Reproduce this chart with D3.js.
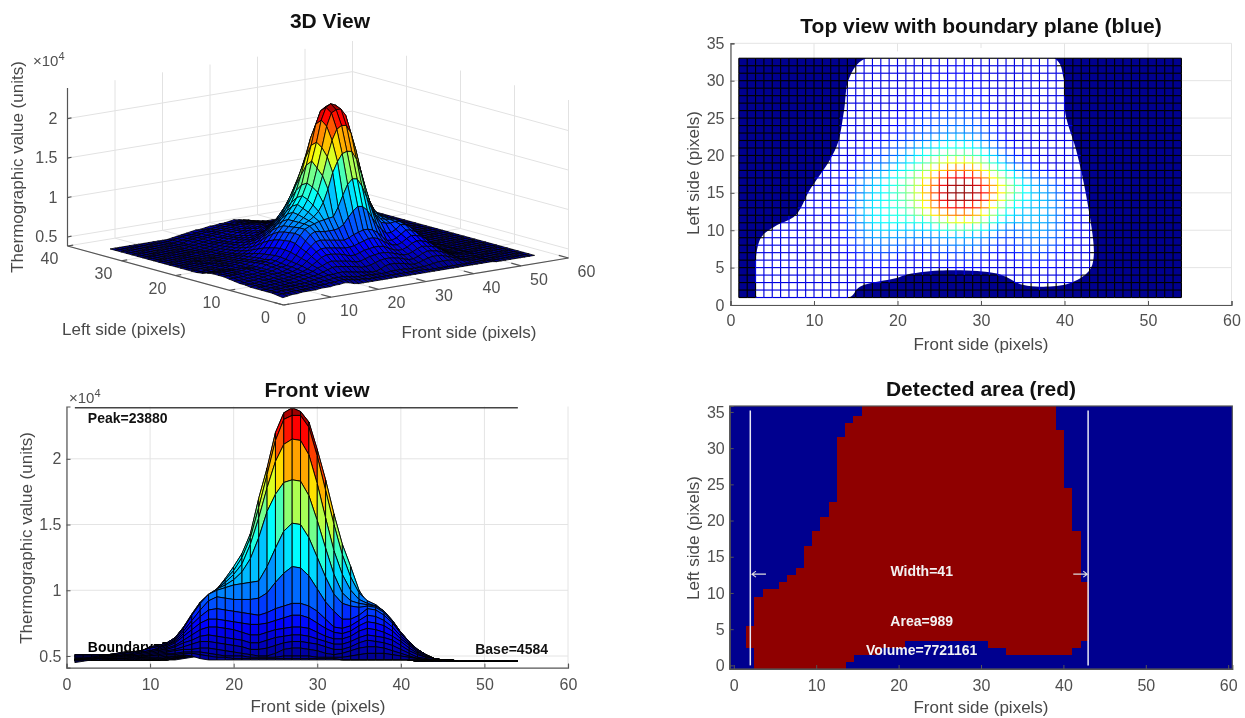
<!DOCTYPE html>
<html>
<head>
<meta charset="utf-8">
<script src="https://cdn.jsdelivr.net/npm/d3@7"></script>
<style>
  body { margin: 0; background: #fff; }
  svg { filter: blur(0.45px); }
  text { font-family: "Liberation Sans", Arial, sans-serif; }
  .tick text, .tick3d { font-size: 16px; fill: #505050; }
  .axis-label { font-size: 17px; fill: #484848; text-anchor: middle; }
  .chart-title { font-size: 21px; font-weight: bold; fill: #111; text-anchor: middle; }
  .note { font-size: 14px; font-weight: bold; }
</style>
</head>
<body>
<script>
// surface, in hundreds of units, rows are y = 1..33, columns x = 1..54
const surfaceHundreds = [
  [45,46,47,47,48,48,48,48,49,49, 49,50,50,51,50,48,47,47,47,47, 47,47,47,47,47,47,47,47,47,47, 47,47,47,47,47,47,47,47,47,47, 47,47,47,47,47,46,46,46,46,46, 46,46,46,46],
  [46,47,47,48,48,48,48,49,49,50, 50,51,51,52,52,51,50,49,49,48, 48,48,48,48,48,48,48,48,48,48, 48,48,47,47,47,47,47,47,47,47, 47,47,47,47,47,46,46,46,46,46, 46,46,46,46],
  [47,47,48,48,48,49,49,49,50,50, 51,52,52,53,53,53,52,51,50,50, 50,49,49,49,49,50,50,50,50,49, 49,49,49,50,51,52,52,52,51,50, 49,48,47,47,47,46,46,46,46,46, 46,46,46,46],
  [47,47,48,48,49,49,49,50,50,51, 52,53,54,55,55,56,56,55,54,53, 52,51,50,50,52,55,56,56,55,54, 52,51,52,54,56,57,57,56,54,52, 50,48,47,47,47,46,46,46,46,46, 46,46,46,46],
  [47,47,48,48,49,49,50,50,51,52, 53,54,55,57,59,61,61,60,59,58, 57,55,55,56,58,60,61,61,60,59, 57,55,55,57,60,62,61,60,58,55, 52,49,48,47,47,46,46,46,46,46, 46,46,46,46],
  [47,48,48,49,49,50,50,51,52,53, 54,55,57,60,62,65,66,65,64,63, 62,60,60,62,64,65,66,66,65,63, 61,59,59,61,64,66,65,64,62,58, 54,51,49,48,47,47,46,46,46,46, 46,46,46,46],
  [47,48,48,49,50,50,51,51,52,53, 54,56,58,62,66,70,72,72,71,70, 68,66,66,68,70,71,72,72,71,68, 65,63,63,65,69,71,70,68,65,61, 56,52,49,48,47,47,46,46,46,46, 46,46,46,46],
  [48,48,48,49,50,50,51,52,53,54, 55,57,60,65,70,75,78,78,77,76, 75,74,74,75,77,79,81,81,79,75, 71,68,67,69,73,76,75,73,69,63, 58,53,50,48,47,47,46,46,46,46, 46,46,46,46],
  [48,48,49,49,50,51,52,53,53,54, 56,58,61,67,74,80,85,86,85,84, 83,82,81,83,86,88,90,90,88,84, 78,72,71,73,77,81,80,77,72,65, 59,54,50,48,47,47,46,46,46,46, 46,46,46,46],
  [49,49,49,50,50,51,52,53,54,56, 57,58,62,69,77,85,92,95,94,93, 93,93,94,98,106,113,118,117,111,101, 91,84,78,78,81,86,85,81,75,67, 60,55,51,48,47,47,46,46,46,46, 46,46,46,46],
  [50,50,50,50,51,51,52,53,54,56, 57,59,63,71,81,90,97,100,102,104, 105,106,107,118,132,145,151,150,140,125, 110,97,90,88,87,88,87,83,76,68, 61,55,51,48,47,47,46,46,46,46, 46,46,46,46],
  [51,51,51,51,51,52,53,53,54,57, 58,60,64,72,82,91,97,101,104,108, 114,124,140,160,173,182,184,183,172,153, 132,112,98,92,90,89,88,84,77,68, 61,55,51,48,47,47,46,46,46,46, 46,46,46,46],
  [51,51,51,51,51,52,53,53,54,57, 58,60,64,72,81,90,96,101,106,112, 120,135,155,178,198,211,215,214,203,181, 155,130,112,100,93,90,88,84,77,68, 61,55,51,48,47,47,46,46,46,46, 46,46,46,46],
  [51,51,51,51,51,51,52,52,53,56, 57,58,63,71,80,89,95,101,108,115, 125,140,163,188,214,230,233,233,224,202, 176,150,127,110,98,92,89,84,76,67, 60,55,51,48,47,47,46,46,46,46, 46,46,46,46],
  [50,50,50,50,50,50,51,52,53,55, 56,58,62,69,78,87,94,101,109,118, 128,143,170,193,220,235,238.8,236,228,207, 184,158,135,118,100,90,86,81,74,65, 59,54,50,48,47,46,46,46,46,46, 46,46,46,46],
  [48,48,48,49,49,50,51,52,53,54, 55,57,61,67,75,83,90,97,105,114, 124,139,163,187,213,229,233,231,222,200, 176,151,128,110,95,86,80,75,69,62, 57,53,50,48,47,46,46,46,46,46, 46,46,46,46],
  [47,47,48,48,49,50,50,51,52,53, 54,56,59,64,71,78,85,91,98,106, 116,130,148,170,193,208,213,211,200,180, 156,132,112,96,84,76,71,67,62,57, 54,51,49,48,47,46,46,46,46,46, 46,46,46,46],
  [47,47,48,48,48,49,50,50,51,52, 53,55,57,61,66,72,78,84,90,97, 106,118,133,150,167,179,182,180,170,152, 132,112,95,82,73,67,63,60,57,54, 52,50,49,47,47,46,46,46,46,46, 46,46,46,46],
  [47,47,47,48,48,49,49,50,50,51, 52,53,55,58,62,67,72,77,83,89, 96,106,118,131,143,149,150,148,140,126, 110,94,81,72,65,61,58,56,54,52, 51,49,48,47,47,46,46,46,46,46, 46,46,46,46],
  [47,47,47,47,48,48,48,49,49,50, 51,52,53,56,59,63,67,71,76,81, 87,95,103,112,118,122,122,120,114,103, 92,80,71,64,60,57,55,54,52,51, 50,49,48,47,47,46,46,46,46,46, 46,46,46,46],
  [47,47,47,47,47,48,48,48,49,49, 50,51,52,54,57,60,63,66,70,74, 78,84,90,95,100,103,103,101,97,89, 80,71,64,59,56,54,53,52,51,50, 50,49,47,47,46,46,46,46,46,46, 46,46,46,46],
  [47,47,47,47,47,47,47,48,48,48, 49,50,51,53,55,57,60,62,65,68, 71,75,79,83,87,89,90,88,85,79, 72,65,60,56,54,53,52,51,50,50, 50,48,47,47,46,46,46,46,46,46, 46,46,46,46],
  [47,47,47,47,47,47,47,47,48,48, 48,49,50,52,54,56,58,60,62,64, 67,70,73,76,79,81,82,80,78,73, 68,62,57,54,53,52,51,51,50,50, 50,48,47,46,46,46,46,46,46,46, 46,46,46,46],
  [47,47,47,47,47,47,47,47,47,48, 48,49,50,51,53,55,56,58,60,62, 64,66,69,71,74,75,76,75,73,69, 64,59,55,53,52,51,51,50,50,50, 50,48,47,46,46,46,46,46,46,46, 46,46,46,46],
  [47,47,47,47,47,47,47,47,47,48, 48,48,49,51,52,54,55,57,58,60, 62,64,66,68,70,71,72,71,69,66, 62,57,54,52,51,51,50,50,50,50, 49,47,46,46,46,46,46,46,46,46, 46,46,46,46],
  [47,47,47,47,47,47,47,47,47,47, 48,48,49,50,52,53,54,56,57,58, 60,62,64,65,67,68,69,68,66,63, 60,56,53,52,51,50,50,50,50,50, 48,47,46,46,46,46,46,46,46,46, 46,46,46,46],
  [47,47,47,47,47,47,47,47,47,47, 47,48,49,50,51,52,53,55,56,57, 59,60,62,63,65,66,66,65,63,61, 58,55,53,51,51,50,50,50,50,49, 48,47,46,46,46,46,46,46,46,46, 46,46,46,46],
  [47,47,47,47,47,47,47,47,47,47, 47,48,49,50,51,52,53,54,55,56, 58,59,60,61,63,64,64,63,62,60, 57,54,52,51,50,50,50,50,50,49, 47,46,46,46,46,46,46,46,46,46, 46,46,46,46],
  [47,47,47,47,47,47,47,47,47,47, 47,48,48,50,51,52,53,54,55,56, 57,58,59,60,61,62,62,62,60,58, 56,54,52,51,50,50,50,50,49,48, 47,46,46,46,46,46,46,46,46,46, 46,46,46,46],
  [47,47,47,47,47,47,47,47,47,47, 47,47,48,50,51,52,52,53,54,55, 56,57,58,59,60,60,60,60,59,57, 55,53,52,51,50,50,50,50,49,48, 47,46,46,46,46,46,46,46,46,46, 46,46,46,46],
  [47,47,47,47,47,47,47,47,47,47, 47,47,48,49,50,51,52,53,54,54, 55,56,57,58,58,59,59,59,58,56, 54,53,52,51,50,50,50,50,49,48, 47,46,46,46,46,46,46,46,46,46, 46,46,46,46],
  [47,47,47,47,47,47,47,47,47,47, 47,47,48,49,50,51,51,52,53,54, 54,55,56,57,57,58,58,58,57,55, 54,52,51,50,50,50,50,50,49,48, 47,46,46,46,46,46,46,46,46,46, 46,46,46,46],
  [47,47,47,47,47,47,47,47,47,47, 47,47,47,48,49,50,51,52,53,53, 54,55,55,56,56,57,58,57,56,55, 53,52,51,50,50,50,50,49,49,48, 47,46,46,46,46,46,46,46,46,46, 46,46,46,46]
];
const surfaceMin = 4584;
const surfaceMax = 23880;

const frontTicks = [0, 10, 20, 30, 40, 50, 60];
const leftTicks3d = [0, 10, 20, 30, 40];
const leftTicks = [0, 5, 10, 15, 20, 25, 30, 35];
const valueTicks = [5000, 10000, 15000, 20000];
const valueTickLabels = ["0.5", "1", "1.5", "2"];

// outline of the part above the boundary plane (front side, left side)
const outlineFront = [3.2, 3, 3, 3.7, 5.3, 7.8, 9.5, 11.9, 12.9, 13.6, 14.2, 16.2, 38.8, 39.9, 40.1, 41.4, 42.7, 43.5, 42.9, 40.6, 37.5, 35, 31.9, 25, 20.9, 19.9, 15.5, 14.2];
const outlineLeft = [1, 3, 6, 9.1, 10.5, 12, 15.4, 19.4, 21.8, 26, 30.3, 33, 33, 30.3, 25.6, 20.7, 14, 6.5, 4.5, 2.9, 2.45, 2.7, 4.2, 4.6, 4, 3.6, 2.45, 1];

// detected mask, one run per row: row, first edge, last edge
const detectedRows = [0, 1, 2, 2, 3, 3, 4, 5, 6, 7, 8, 9, 10, 11, 12, 13, 14, 15, 16, 17, 18, 19, 20, 21, 22, 23, 24, 25, 26, 27, 28, 29, 30, 31, 32, 33, 34, 35, 36];
const detectedFrom = [2.5, 2.5, 2.5, 33, 1.5, 30.9, 1.5, 1.5, 2.5, 2.5, 2.5, 2.5, 3.5, 5.5, 6.5, 7.5, 8.5, 8.5, 8.5, 9.5, 9.5, 10.5, 10.5, 11.5, 11.5, 12.5, 12.5, 12.5, 12.5, 12.5, 12.5, 12.5, 12.5, 12.5, 13.5, 13.5, 14.5, 15.5, 15.5];
const detectedTo = [13.6, 14.6, 17.8, 41.1, 20.8, 42.1, 43.1, 43.1, 43.1, 43.1, 43.1, 43.1, 43.1, 43.1, 42.1, 42.1, 42.1, 42.1, 42.1, 42.1, 42.1, 41.1, 41.1, 41.1, 41.1, 41.1, 41.1, 40.1, 40.1, 40.1, 40.1, 40.1, 40.1, 40.1, 40.1, 39.1, 39.1, 39.1, 39.1];

const widthLines = [2, 43];
const peakValue = 23880;
const baseValue = 4584;

const svg = d3.select("body").append("svg").attr("width", 1245).attr("height", 718);

function value(x, y) { return surfaceHundreds[y - 1][x - 1] * 100; }

const jetColors = ["#00008f", "#0000ff", "#00ffff", "#ffff00", "#ff0000", "#800000"];
const jet = d3.scaleLinear()
  .domain([0, 0.125, 0.375, 0.625, 0.875, 1].map(function (t) { return surfaceMin + t * (surfaceMax - surfaceMin); }))
  .range(jetColors)
  .clamp(true);
// the top view mesh runs through the same colours a little sooner
const jetTop = d3.scaleLinear()
  .domain([4584, 6000, 10000, 15500, 21000, 24000])
  .range(jetColors)
  .clamp(true);

const xNodes = d3.range(1, 55);
const yNodes = d3.range(1, 34);

function title(text, x, y) {
  svg.append("text").attr("class", "chart-title").attr("x", x).attr("y", y).text(text);
}
function label(text, x, y, rotated) {
  const t = svg.append("text").attr("class", "axis-label").text(text);
  if (rotated) t.attr("transform", "translate(" + x + "," + y + ") rotate(-90)");
  else t.attr("x", x).attr("y", y);
}
function exponent(x, y) {
  const t = svg.append("text").attr("x", x).attr("y", y).style("font-size", "15px").style("fill", "#505050").text("\u00d710");
  t.append("tspan").attr("dy", -6).style("font-size", "11px").text("4");
}
function drawAxes(x, y, xt, yt, padX, padY, yFormat) {
  const xr = x.range(), yr = y.range();
  svg.append("g").attr("transform", "translate(0," + yr[0] + ")")
    .call(d3.axisBottom(x).tickValues(xt).tickSize(-4).tickPadding(padX))
    .call(axisStyle);
  const ax = d3.axisLeft(y).tickValues(yt).tickSize(-4).tickPadding(padY);
  if (yFormat) ax.tickFormat(yFormat);
  svg.append("g").attr("transform", "translate(" + xr[0] + ",0)").call(ax).call(axisStyle);
}
function axisStyle(g) {
  g.selectAll(".domain").attr("stroke", "#555").attr("stroke-width", 1.2);
  g.selectAll(".tick line").attr("stroke", "#555");
}
function drawGrid(x, y, xt, yt) {
  const xr = x.range(), yr = y.range();
  const g = svg.append("g").attr("stroke", "#e4e4e4").attr("stroke-width", 1);
  g.selectAll("line.v").data(xt).enter().append("line").attr("class", "v")
    .attr("x1", x).attr("x2", x).attr("y1", yr[0]).attr("y2", yr[1]);
  g.selectAll("line.h").data(yt).enter().append("line").attr("class", "h")
    .attr("x1", xr[0]).attr("x2", xr[1]).attr("y1", y).attr("y2", y);
}
function valueLabel(d) { return valueTickLabels[valueTicks.indexOf(d)]; }

// ---- 3D view
const origin3d = [283.5, 305];
const xAcross = d3.scaleLinear().domain([0, 60]).range([0, 285]);
const xUp = d3.scaleLinear().domain([0, 60]).range([0, -47]);
const yAcross = d3.scaleLinear().domain([0, 40]).range([0, -216]);
const yUp = d3.scaleLinear().domain([0, 40]).range([0, -59]);
const zUp = d3.scaleLinear().domain([3860, 23880]).range([0, -158]);

function project(x, y, z) {
  return [origin3d[0] + xAcross(x) + yAcross(y), origin3d[1] + xUp(x) + yUp(y) + zUp(z)];
}
const zLow = zUp.domain()[0], zTop = zUp.domain()[1];
const line3d = d3.line();
const gridLines3d = [];
frontTicks.forEach(function (x) {
  gridLines3d.push([[x, 0, zLow], [x, 40, zLow]]);
  gridLines3d.push([[x, 40, zLow], [x, 40, zTop]]);
});
leftTicks3d.forEach(function (y) {
  gridLines3d.push([[0, y, zLow], [60, y, zLow]]);
  gridLines3d.push([[60, y, zLow], [60, y, zTop]]);
});
valueTicks.forEach(function (z) {
  gridLines3d.push([[0, 40, z], [60, 40, z]]);
  gridLines3d.push([[60, 40, z], [60, 0, z]]);
});
svg.append("g").selectAll("path").data(gridLines3d).enter().append("path")
  .attr("d", function (d) { return line3d(d.map(function (p) { return project(p[0], p[1], p[2]); })); })
  .attr("fill", "none").attr("stroke", "#e2e2e2");

const cells3d = [];
yNodes.slice(0, -1).reverse().forEach(function (y) {
  xNodes.slice(0, -1).reverse().forEach(function (x) { cells3d.push([x, y]); });
});
svg.append("g").selectAll("path").data(cells3d).enter().append("path")
  .attr("d", function (d) {
    const x = d[0], y = d[1];
    return line3d([
      project(x, y, value(x, y)), project(x + 1, y, value(x + 1, y)),
      project(x + 1, y + 1, value(x + 1, y + 1)), project(x, y + 1, value(x, y + 1))
    ]) + "Z";
  })
  .attr("fill", function (d) { return jet(value(d[0], d[1])); })
  .attr("stroke", "#000").attr("stroke-width", 0.8).attr("stroke-linejoin", "round");

const axes3d = svg.append("g").attr("stroke", "#555").attr("stroke-width", 1.2).attr("fill", "none");
[[[0, 40, zLow], [0, 40, zTop]], [[0, 40, zLow], [0, 0, zLow]], [[0, 0, zLow], [60, 0, zLow]]].forEach(function (seg) {
  axes3d.append("path").attr("d", line3d(seg.map(function (p) { return project(p[0], p[1], p[2]); })));
});
frontTicks.forEach(function (x) {
  const p = project(x, 0, zLow), q = project(x, 3, zLow);
  axes3d.append("path").attr("d", line3d([p, [p[0] + (q[0] - p[0]) * 0.6, p[1] + (q[1] - p[1]) * 0.6]]));
  svg.append("text").attr("class", "tick3d").attr("text-anchor", "middle").attr("x", p[0] + 18).attr("y", p[1] + 19).text(x);
});
leftTicks3d.forEach(function (y) {
  const p = project(0, y, zLow), q = project(3, y, zLow);
  axes3d.append("path").attr("d", line3d([p, [p[0] + (q[0] - p[0]) * 0.4, p[1] + (q[1] - p[1]) * 0.4]]));
  svg.append("text").attr("class", "tick3d").attr("text-anchor", "middle").attr("x", p[0] - 18).attr("y", p[1] + 18).text(y);
});
valueTicks.forEach(function (z, i) {
  const p = project(0, 40, z);
  axes3d.append("path").attr("d", line3d([p, [p[0] + 4, p[1] - 0.8]]));
  svg.append("text").attr("class", "tick3d").attr("text-anchor", "end").attr("x", p[0] - 10).attr("y", p[1] + 5).text(valueTickLabels[i]);
});
title("3D View", 330, 28);
label("Thermographic value (units)", 23, 167, true);
label("Left side (pixels)", 124, 335);
label("Front side (pixels)", 469, 338);
exponent(33, 66);

// ---- Front view
const xFront = d3.scaleLinear().domain([0, 60]).range([66.5, 568]);
const zFront = d3.scaleLinear().domain([4110, 23980]).range([667.7, 406.5]);
drawGrid(xFront, zFront, frontTicks, valueTicks);
svg.append("text").attr("class", "note").attr("x", xFront(2.55)).attr("y", 652).style("fill", "#000").text("Boundary=5000");
const frontLine = d3.line().x(function (p) { return xFront(p[0]); }).y(function (p) { return zFront(p[1]); });
const cellsFront = [];
yNodes.slice(0, -1).reverse().forEach(function (y) {
  xNodes.slice(0, -1).forEach(function (x) { cellsFront.push([x, y]); });
});
svg.append("g").selectAll("path").data(cellsFront).enter().append("path")
  .attr("d", function (d) {
    const x = d[0], y = d[1];
    return frontLine([[x, value(x, y)], [x + 1, value(x + 1, y)], [x + 1, value(x + 1, y + 1)], [x, value(x, y + 1)]]) + "Z";
  })
  .attr("fill", function (d) { return jet(value(d[0], d[1])); })
  .attr("stroke", "#000").attr("stroke-width", 0.9).attr("stroke-linejoin", "round");
svg.append("path").attr("d", frontLine([[1, peakValue], [54, peakValue]])).attr("stroke", "#444").attr("stroke-width", 1.6);
drawAxes(xFront, zFront, frontTicks, valueTicks, 11, 5, valueLabel);
svg.append("text").attr("class", "note").attr("x", xFront(2.55)).attr("y", 423).style("fill", "#111").text("Peak=23880");
svg.append("text").attr("class", "note").attr("x", xFront(48.9)).attr("y", 654).style("fill", "#111").text("Base=" + baseValue);
title("Front view", 317, 397);
label("Front side (pixels)", 318, 712);
label("Thermographic value (units)", 32, 538, true);
exponent(69, 403);

// ---- Top view
const xTop = d3.scaleLinear().domain([0, 60]).range([730.5, 1231.5]);
const yTop = d3.scaleLinear().domain([0, 35]).range([305, 43.3]);
drawGrid(xTop, yTop, frontTicks, leftTicks);
svg.append("rect").attr("x", xTop(1)).attr("y", yTop(33)).attr("width", xTop(54) - xTop(1)).attr("height", yTop(1) - yTop(33)).attr("fill", "#00008f");
const outline = outlineFront.map(function (x, i) { return [x, outlineLeft[i]]; });
const topLine = d3.line().x(function (p) { return xTop(p[0]); }).y(function (p) { return yTop(p[1]); });
svg.append("path").attr("d", topLine.curve(d3.curveCatmullRomClosed.alpha(0.5))(outline)).attr("fill", "#fff");
topLine.curve(d3.curveLinear);
const meshSegs = [];
yNodes.forEach(function (y) {
  xNodes.forEach(function (x) {
    if (x < 54) meshSegs.push([x, y, x + 1, y]);
    if (y < 33) meshSegs.push([x, y, x, y + 1]);
  });
});
const gMesh = svg.append("g").attr("stroke-width", 1.15);
gMesh.selectAll("path").data(meshSegs).enter().append("path")
  .attr("d", function (s) { return topLine([[s[0], s[1]], [s[2], s[3]]]); })
  .attr("stroke", function (s) {
    const inside = d3.polygonContains(outline, [(s[0] + s[2]) / 2, (s[1] + s[3]) / 2]);
    if (!inside) return "#000";
    return jetTop(Math.max(value(s[0], s[1]), 5600));
  });
drawAxes(xTop, yTop, frontTicks, leftTicks, 10, 6);
title("Top view with boundary plane (blue)", 981, 33);
label("Front side (pixels)", 981, 350);
label("Left side (pixels)", 699, 173, true);

// ---- Detected area
const xArea = d3.scaleLinear().domain([-0.5, 60.5]).range([729.7, 1232.3]);
const yArea = d3.scaleLinear().domain([-0.5, 35.82]).range([669, 406]).clamp(true);
svg.append("rect").attr("x", xArea(-0.5)).attr("y", yArea(35.82)).attr("width", xArea(60.5) - xArea(-0.5)).attr("height", yArea(-0.5) - yArea(35.82)).attr("fill", "#00008f");
svg.append("g").attr("fill", "#8f0000").attr("shape-rendering", "crispEdges").selectAll("rect").data(detectedRows).enter().append("rect")
  .attr("x", function (d, i) { return xArea(detectedFrom[i]); })
  .attr("width", function (d, i) { return xArea(detectedTo[i]) - xArea(detectedFrom[i]); })
  .attr("y", function (d) { return yArea(d + 0.5); })
  .attr("height", function (d) { return yArea(d - 0.5) - yArea(d + 0.5) + 0.5; });
svg.selectAll("line.width").data(widthLines).enter().append("line").attr("class", "width")
  .attr("x1", xArea).attr("x2", xArea).attr("y1", yArea(0)).attr("y2", yArea(35.2))
  .attr("stroke", "#e8e8f4").attr("stroke-width", 1.5);
// width arrows
const arrow = d3.line();
[[3.9, 2.2, 1], [41.2, 42.9, -1]].forEach(function (a) {
  const tip = xArea(a[1]), yA = yArea(12.6);
  svg.append("path").attr("fill", "none").attr("stroke", "#ddd").attr("stroke-width", 1.1)
    .attr("d", arrow([[xArea(a[0]), yA], [tip, yA]]) + arrow([[tip + a[2] * 4, yA - 3], [tip, yA], [tip + a[2] * 4, yA + 3]]));
});
svg.append("g").attr("class", "frame").append("rect")
  .attr("x", xArea(-0.5)).attr("y", yArea(35.82)).attr("width", xArea(60.5) - xArea(-0.5)).attr("height", yArea(-0.5) - yArea(35.82))
  .attr("fill", "none").attr("stroke", "#555").attr("stroke-width", 1.2);
drawAxes(xArea, yArea, frontTicks, leftTicks, 11, 5);
[["Width=41", 12.4], ["Area=989", 5.4], ["Volume=7721161", 1.4]].forEach(function (n) {
  svg.append("text").attr("class", "note").attr("text-anchor", "middle").attr("x", xArea(22.8)).attr("y", yArea(n[1])).style("fill", "#f2f2f2").text(n[0]);
});
title("Detected area (red)", 981, 396);
label("Front side (pixels)", 981, 713);
label("Left side (pixels)", 699, 538, true);
</script>
</body>
</html>
